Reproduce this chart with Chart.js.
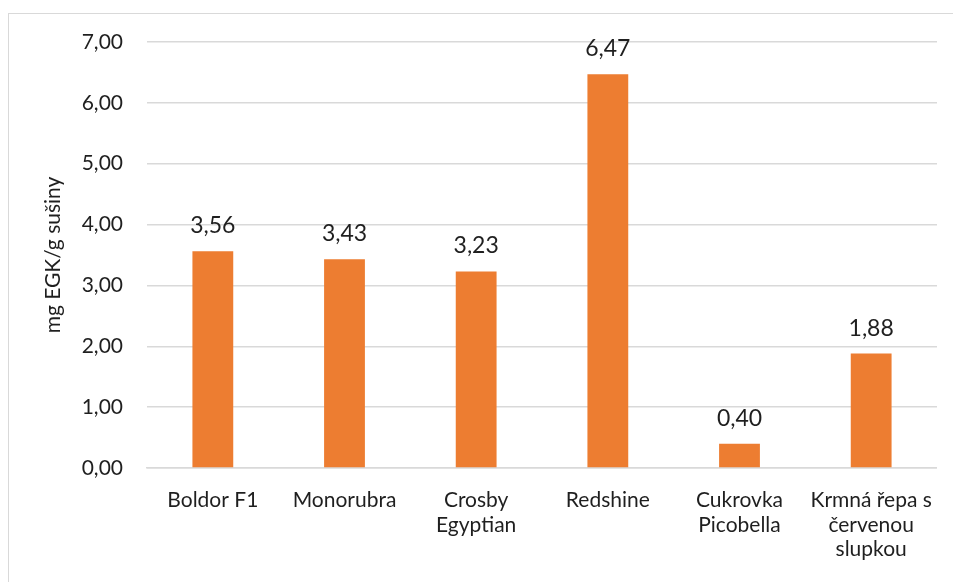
<!DOCTYPE html>
<html>
<head>
<meta charset="utf-8">
<script src="https://cdn.jsdelivr.net/npm/chart.js@4/dist/chart.umd.min.js"></script>
<style>
  html, body { margin: 0; padding: 0; background: #fff; overflow: hidden; }
  #wrap { position: relative; width: 953px; height: 582px; }
  #frame { position: absolute; left: 8px; top: 13px; width: 960px; height: 600px; border: 1px solid #d9d9d9; box-sizing: border-box; }
  canvas { position: absolute; left: 0; top: 0; }
</style>
</head>
<body>
<div id="wrap">
  <div id="frame"></div>
  <canvas id="c" width="953" height="582"></canvas>
</div>
<script>
const categories = [
  "Boldor F1",
  "Monorubra",
  ["Crosby", "Egyptian"],
  "Redshine",
  ["Cukrovka", "Picobella"],
  ["Krmná řepa s", "červenou", "slupkou"]
];
const values = [3.56, 3.43, 3.23, 6.47, 0.40, 1.88];
const yTicks = [0, 1, 2, 3, 4, 5, 6, 7];
const yTitle = "mg EGK/g sušiny";

const fmt = v => v.toFixed(2).replace(".", ",");
const FONT = "Lato, 'Open Sans', sans-serif";
const TEXT = "#1f1f1f";

// value printed above each bar
const valueLabels = {
  id: "valueLabels",
  afterDatasetsDraw(chart) {
    const ctx = chart.ctx;
    const meta = chart.getDatasetMeta(0);
    ctx.save();
    ctx.font = "23px " + FONT;
    ctx.fillStyle = TEXT;
    ctx.textAlign = "center";
    ctx.textBaseline = "alphabetic";
    meta.data.forEach((bar, i) => {
      ctx.fillText(fmt(values[i]), bar.x, bar.y - 18);
    });
    ctx.restore();
  }
};

new Chart(document.getElementById("c"), {
  type: "bar",
  data: {
    labels: categories,
    datasets: [{
      data: values,
      backgroundColor: "#ED7D31",
      categoryPercentage: 1,
      barPercentage: 0.31
    }]
  },
  options: {
    responsive: false,
    animation: false,
    layout: { padding: { left: 41, right: 14, top: 42, bottom: 0 } },
    plugins: { legend: { display: false }, tooltip: { enabled: false } },
    scales: {
      y: {
        min: 0, max: 7,
        afterBuildTicks(s) { s.ticks = yTicks.map(v => ({ value: v })); },
        afterFit(s) { s.width = 106; },
        grid: { color: "#d9d9d9", lineWidth: 1.5, drawTicks: false },
        border: { display: false },
        ticks: {
          padding: 24,
          color: TEXT,
          font: { family: FONT, size: 21 },
          callback: v => fmt(v)
        },
        title: {
          display: true,
          text: yTitle,
          color: TEXT,
          font: { family: FONT, size: 21 },
          padding: { top: 0, bottom: 0 }
        }
      },
      x: {
        afterFit(s) { s.height = 114; },
        grid: { display: false, drawTicks: false },
        border: { display: true, color: "#d9d9d9", width: 1.5 },
        ticks: {
          padding: 20,
          color: TEXT,
          maxRotation: 0,
          autoSkip: false,
          font: { family: FONT, size: 21, lineHeight: 1.17 }
        }
      }
    }
  },
  plugins: [valueLabels]
});
</script>
</body>
</html>
